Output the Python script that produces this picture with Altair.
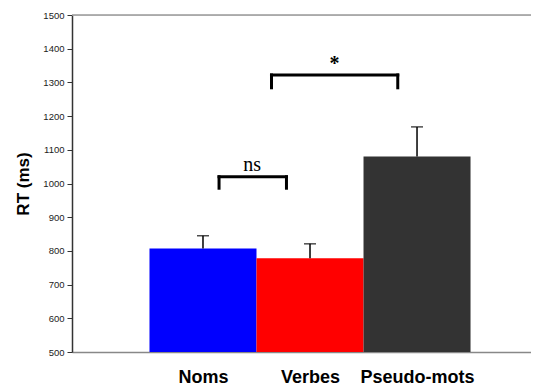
import altair as alt
import pandas as pd

categories = ["Noms", "Verbes", "Pseudo-mots"]
positions = [1, 2, 3]
means = [807, 778, 1080]
errors = [38, 43, 88]
colors = ["#0000FF", "#FF0000", "#333333"]

# significance brackets
br_labels = ["ns", "*"]
br_weight = ["normal", "bold"]
br_x1 = [1.15, 1.64]
br_x2 = [1.78, 2.82]
br_top = [1020, 1322]
br_bottom = [986, 1284]
br_text_x = [1.46, 2.23]
br_text_y = [1037, 1336]

y_ticks = list(range(500, 1501, 100))

bars = pd.DataFrame({
    "cat": categories,
    "pos": positions,
    "x0": [p - 0.5 for p in positions],
    "x1": [p + 0.5 for p in positions],
    "mean": means,
    "top": [m + e for m, e in zip(means, errors)],
})

segs = []
for i in range(len(br_labels)):
    segs.append({"x": br_x1[i], "x2": br_x2[i], "y": br_top[i], "y2": br_top[i]})
    segs.append({"x": br_x1[i], "x2": br_x1[i], "y": br_top[i], "y2": br_bottom[i]})
    segs.append({"x": br_x2[i], "x2": br_x2[i], "y": br_top[i], "y2": br_bottom[i]})
segs = pd.DataFrame(segs)
texts = pd.DataFrame({"t": br_labels, "w": br_weight, "x": br_text_x, "y": br_text_y})

xscale = alt.Scale(domain=[-0.224, 4.065], nice=False, zero=False)
yscale = alt.Scale(domain=[500, 1500], nice=False, zero=False)

label_expr = "datum.value == 1 ? 'Noms' : datum.value == 2 ? 'Verbes' : datum.value == 3 ? 'Pseudo-mots' : ''"

xaxis = alt.Axis(values=positions, labelExpr=label_expr, title=None, ticks=False, grid=False,
                 domainColor="#888888", domainWidth=1.5, labelFont="Liberation Sans",
                 labelFontSize=18, labelFontWeight="bold", labelColor="#000000",
                 labelPadding=16, labelFlush=False, labelOverlap=False)
yaxis = alt.Axis(values=y_ticks, format="d", title="RT (ms)", grid=False, tickSize=5,
                 tickColor="#333333", domainColor="#333333", domainWidth=1.5,
                 labelFont="Liberation Sans", labelOverlap=False, labelFlush=False,
                 labelFontSize=9.5, labelColor="#222222", labelPadding=3,
                 titleFont="Liberation Sans", titleFontSize=17, titleFontWeight="bold",
                 titleColor="#000000", titlePadding=10)

def X(f):
    return alt.X(f, scale=xscale, axis=xaxis)

def Y(f):
    return alt.Y(f, scale=yscale, axis=yaxis)

base = alt.Chart(bars)

bar = base.mark_bar(stroke=None).encode(
    x=X("x0:Q"),
    x2="x1:Q",
    y=Y("mean:Q"),
    y2=alt.datum(500),
    color=alt.Color("cat:N", scale=alt.Scale(domain=categories, range=colors), legend=None),
)

stem = base.mark_rule(color="black", strokeWidth=1.5).encode(
    x=X("pos:Q"),
    y=Y("mean:Q"),
    y2="top:Q",
)
cap = base.mark_tick(color="black", orient="horizontal", size=12, thickness=1.5).encode(
    x=X("pos:Q"),
    y=Y("top:Q"),
)

top_line = alt.Chart(pd.DataFrame({"v": [1500]})).mark_rule(color="#999999", strokeWidth=1.5).encode(
    y=Y("v:Q")
)

brackets = alt.Chart(segs).mark_rule(color="black", strokeWidth=3, strokeCap="square").encode(
    x=X("x:Q"), x2="x2:Q",
    y=Y("y:Q"), y2="y2:Q",
)
txt = alt.Chart(texts)
label_ns = txt.transform_filter("datum.w == 'normal'").mark_text(
    font="Liberation Serif", fontSize=20, color="black", baseline="alphabetic", align="center"
).encode(x=X("x:Q"), y=Y("y:Q"), text="t:N")
label_star = txt.transform_filter("datum.w == 'bold'").mark_text(
    font="Liberation Serif", fontSize=20, fontWeight="bold", color="black",
    baseline="alphabetic", align="center"
).encode(x=X("x:Q"), y=Y("y:Q"), text="t:N")

chart = alt.layer(bar, top_line, stem, cap, brackets, label_ns, label_star).properties(
    width=459, height=337,
    autosize=alt.AutoSizeParams(type="none"),
    padding={"left": 64, "top": 7, "right": 0, "bottom": 40},
).configure_view(stroke=None).configure(background="white")

chart.save("out.html", embed_options={"renderer": "svg", "actions": False})
